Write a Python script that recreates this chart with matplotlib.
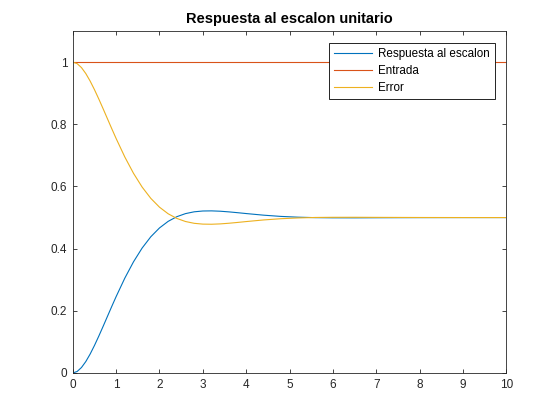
import matplotlib
matplotlib.use("Agg")
from matplotlib import pyplot as plt

# values
t = [0.0, 0.1, 0.2, 0.3, 0.4, 0.5, 0.6, 0.7, 0.8, 0.9, 1.0, 1.2, 1.4, 1.6, 1.8,
     2.0, 2.2, 2.4, 2.6, 2.8, 3.0, 3.2, 3.4, 3.6, 3.8, 4.0, 4.4, 4.8, 5.2, 5.6,
     6.0, 6.5, 7.0, 8.0, 9.0, 10.0]
respuesta = [0.0, 0.0047, 0.0175, 0.0367, 0.0608, 0.0885, 0.1186, 0.1501, 0.1823,
             0.2144, 0.2458, 0.3051, 0.3575, 0.4020, 0.4383, 0.4666, 0.4878, 0.5028,
             0.5127, 0.5185, 0.5211, 0.5215, 0.5204, 0.5183, 0.5157, 0.5129, 0.5077,
             0.5037, 0.5012, 0.4997, 0.4992, 0.4991, 0.4994, 0.4998, 0.5000, 0.5000]
error = [1.0, 0.9953, 0.9825, 0.9633, 0.9392, 0.9115, 0.8814, 0.8499, 0.8177,
         0.7856, 0.7542, 0.6949, 0.6425, 0.5980, 0.5617, 0.5334, 0.5122, 0.4972,
         0.4873, 0.4815, 0.4789, 0.4785, 0.4796, 0.4817, 0.4843, 0.4871, 0.4923,
         0.4963, 0.4988, 0.5003, 0.5008, 0.5009, 0.5006, 0.5002, 0.5000, 0.5000]
t_entrada = [0.0, 10.0]
entrada = [1.0, 1.0]

labels = ["Respuesta al escalon", "Entrada", "Error"]
colors = ["#0072BD", "#D95319", "#EDB120"]
xticks = list(range(0, 11))
yticks = [0, 0.2, 0.4, 0.6, 0.8, 1]
ytick_labels = ["0", "0.2", "0.4", "0.6", "0.8", "1"]

plt.rcParams['font.family'] = ['Liberation Sans', 'DejaVu Sans']
axcol = "#262626"

fig = plt.figure(figsize=(5.6, 4.2), dpi=100)
ax = fig.add_axes([0.130, 0.112, 0.774, 0.814])

ax.plot(t, respuesta, color=colors[0], lw=0.8, label=labels[0])
ax.plot(t_entrada, entrada, color=colors[1], lw=0.8, label=labels[1])
ax.plot(t, error, color=colors[2], lw=0.8, label=labels[2])

ax.set_xlim(0, 10)
ax.set_ylim(0, 1.1)
ax.set_xticks(xticks)
ax.set_xticklabels([str(v) for v in xticks])
ax.set_yticks(yticks)
ax.set_yticklabels(ytick_labels)
ax.tick_params(direction='in', length=3, width=0.6, top=True, right=True,
               labelsize=8.5, colors=axcol, pad=4)
for s in ax.spines.values():
    s.set_color(axcol)
    s.set_linewidth(0.6)

ax.set_title("Respuesta al escalon unitario", fontsize=10.5, fontweight='bold',
             color='black', pad=6)

leg = ax.legend(loc='upper right', fontsize=8.4, frameon=True, fancybox=False,
                edgecolor='black', framealpha=1, borderaxespad=1.0,
                handlelength=3.2, labelspacing=0.43, borderpad=0.45,
                handletextpad=0.5)
leg.get_frame().set_linewidth(0.6)

fig.savefig("out.png", dpi=100)
